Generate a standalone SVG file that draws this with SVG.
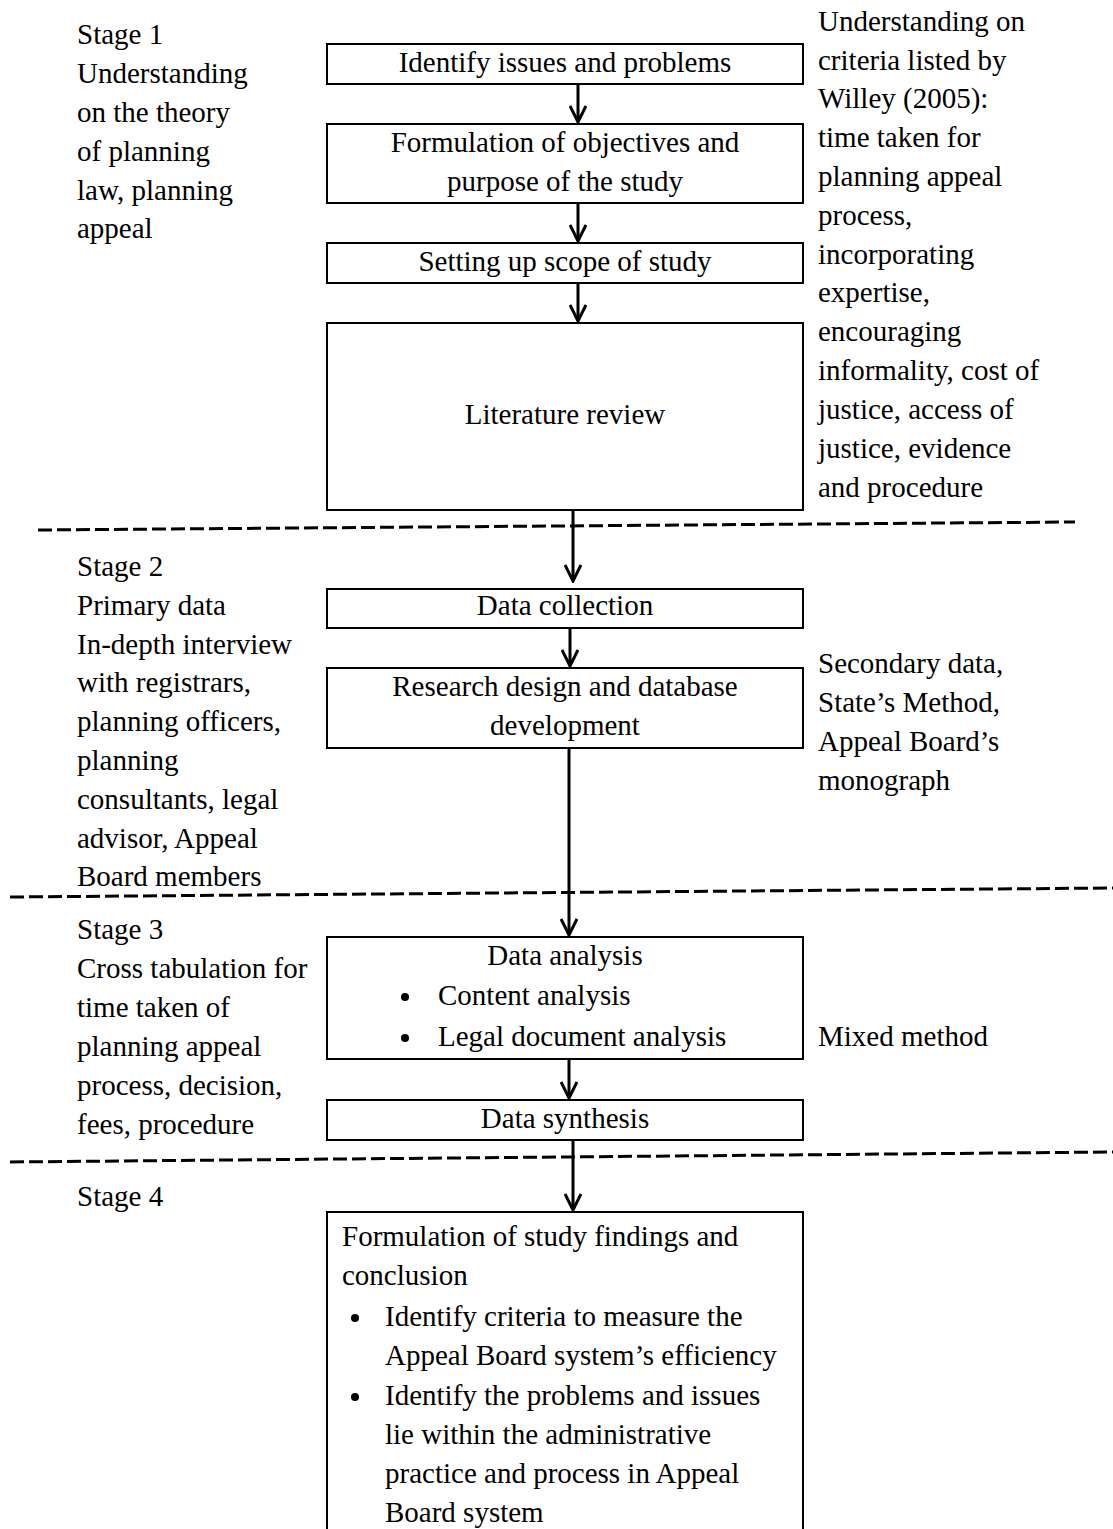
<svg xmlns="http://www.w3.org/2000/svg" width="1113" height="1529" viewBox="0 0 1113 1529">
<style>
text{font-family:"Liberation Serif","Times New Roman",serif;font-size:29px;fill:#000}
.c{text-anchor:middle}
.box{fill:#fff;stroke:#000;stroke-width:2}
.con{stroke:#000;stroke-width:3;fill:none}
.dash{stroke:#000;stroke-width:3;stroke-dasharray:14,5;fill:none}
</style>
<defs>
<marker id="ah" markerWidth="20" markerHeight="18" refX="18" refY="9" orient="auto" markerUnits="userSpaceOnUse" viewBox="0 0 20 18">
<path d="M2,1 L18,9 L2,17" fill="none" stroke="#000" stroke-width="3"/>
</marker>
</defs>
<rect width="1113" height="1529" fill="#fff"/>
<g id="dividers">
<path class="dash" d="M38,530 L1075,522"/>
<path class="dash" d="M10,897 L1113,888"/>
<path class="dash" d="M10,1162 L1113,1152"/>
</g>
<g id="connectors">
<path class="con" d="M578,85 V122" marker-end="url(#ah)"/>
<path class="con" d="M578,204 V241" marker-end="url(#ah)"/>
<path class="con" d="M578,284 V321" marker-end="url(#ah)"/>
<path class="con" d="M573,511 V581" marker-end="url(#ah)"/>
<path class="con" d="M570,629 V666" marker-end="url(#ah)"/>
<path class="con" d="M569,749 V935" marker-end="url(#ah)"/>
<path class="con" d="M569,1060 V1098" marker-end="url(#ah)"/>
<path class="con" d="M573,1132 V1210" marker-end="url(#ah)"/>
</g>
<g id="n1"><rect class="box" x="327" y="44" width="476" height="40"/><text class="c" x="565" y="72">Identify issues and problems</text></g>
<g id="n2"><rect class="box" x="327" y="124" width="476" height="79"/><text class="c" x="565" y="152">Formulation of objectives and</text><text class="c" x="565" y="191">purpose of the study</text></g>
<g id="n3"><rect class="box" x="327" y="243" width="476" height="40"/><text class="c" x="565" y="271">Setting up scope of study</text></g>
<g id="n4"><rect class="box" x="327" y="323" width="476" height="187"/><text class="c" x="565" y="424">Literature review</text></g>
<g id="n5"><rect class="box" x="327" y="589" width="476" height="39"/><text class="c" x="565" y="615">Data collection</text></g>
<g id="n6"><rect class="box" x="327" y="668" width="476" height="80"/><text class="c" x="565" y="696">Research design and database</text><text class="c" x="565" y="735">development</text></g>
<g id="n7"><rect class="box" x="327" y="937" width="476" height="122"/><text class="c" x="565" y="965">Data analysis</text>
<circle cx="405" cy="997" r="4"/><text x="438" y="1005">Content analysis</text>
<circle cx="405" cy="1038" r="4"/><text x="438" y="1046">Legal document analysis</text></g>
<g id="n8"><rect class="box" x="327" y="1100" width="476" height="40"/><text class="c" x="565" y="1128">Data synthesis</text></g>
<g id="n9"><rect class="box" x="327" y="1212" width="476" height="330"/>
<text x="342" y="1246">Formulation of study findings and</text>
<text x="342" y="1285">conclusion</text>
<circle cx="355" cy="1318" r="4"/>
<text x="385" y="1326">Identify criteria to measure the</text>
<text x="385" y="1365">Appeal Board system’s efficiency</text>
<circle cx="355" cy="1397" r="4"/>
<text x="385" y="1405">Identify the problems and issues</text>
<text x="385" y="1444">lie within the administrative</text>
<text x="385" y="1483">practice and process in Appeal</text>
<text x="385" y="1522">Board system</text></g>
<g id="stage1">
<text x="77" y="44">Stage 1</text>
<text x="77" y="83">Understanding</text>
<text x="77" y="122">on the theory</text>
<text x="77" y="161">of planning</text>
<text x="77" y="200">law, planning</text>
<text x="77" y="238">appeal</text>
</g>
<g id="note1">
<text x="818" y="31">Understanding on</text>
<text x="818" y="70">criteria listed by</text>
<text x="818" y="108">Willey (2005):</text>
<text x="818" y="147">time taken for</text>
<text x="818" y="186">planning appeal</text>
<text x="818" y="225">process,</text>
<text x="818" y="264">incorporating</text>
<text x="818" y="302">expertise,</text>
<text x="818" y="341">encouraging</text>
<text x="818" y="380">informality, cost of</text>
<text x="818" y="419">justice, access of</text>
<text x="818" y="458">justice, evidence</text>
<text x="818" y="497">and procedure</text>
</g>
<g id="stage2">
<text x="77" y="576">Stage 2</text>
<text x="77" y="615">Primary data</text>
<text x="77" y="654">In-depth interview</text>
<text x="77" y="692">with registrars,</text>
<text x="77" y="731">planning officers,</text>
<text x="77" y="770">planning</text>
<text x="77" y="809">consultants, legal</text>
<text x="77" y="848">advisor, Appeal</text>
<text x="77" y="886">Board members</text>
</g>
<g id="note2">
<text x="818" y="673">Secondary data,</text>
<text x="818" y="712">State’s Method,</text>
<text x="818" y="751">Appeal Board’s</text>
<text x="818" y="790">monograph</text>
</g>
<g id="stage3">
<text x="77" y="939">Stage 3</text>
<text x="77" y="978">Cross tabulation for</text>
<text x="77" y="1017">time taken of</text>
<text x="77" y="1056">planning appeal</text>
<text x="77" y="1095">process, decision,</text>
<text x="77" y="1134">fees, procedure</text>
</g>
<g id="note3"><text x="818" y="1046">Mixed method</text></g>
<g id="stage4"><text x="77" y="1206">Stage 4</text></g>
</svg>
